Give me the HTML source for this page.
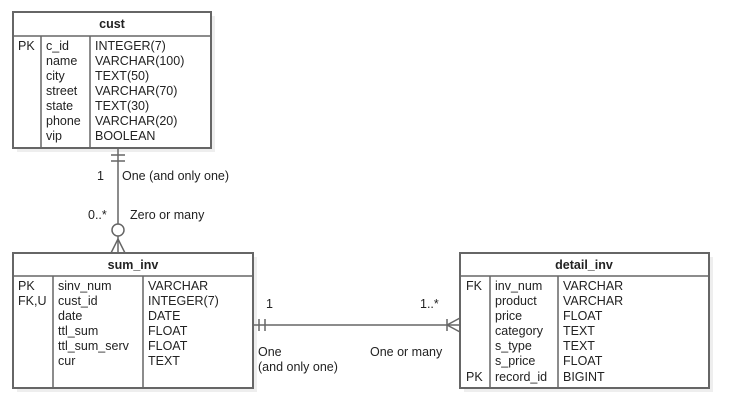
<!DOCTYPE html>
<html><head><meta charset="utf-8"><style>
html,body{margin:0;padding:0;background:#fff;}
svg{display:block;}
text{font-family:"Liberation Sans",Arial,sans-serif;font-size:12.5px;fill:#222;}
.h{font-weight:bold;font-size:12.5px;}
</style></head><body>
<svg width="729" height="405" viewBox="0 0 729 405" xmlns="http://www.w3.org/2000/svg">
<g fill="#eeeeee">
<rect x="17" y="16" width="198" height="136"/>
<rect x="17" y="257" width="240" height="135"/>
<rect x="464" y="257" width="249" height="135"/>
</g>
<g fill="#fff" stroke="#666" stroke-width="2">
<rect x="13" y="12" width="198" height="136"/>
<rect x="13" y="253" width="240" height="135"/>
<rect x="460" y="253" width="249" height="135"/>
</g>
<g stroke="#666" stroke-width="1.5" fill="none">
<line x1="13" y1="36" x2="211" y2="36"/>
<line x1="41" y1="36" x2="41" y2="148"/>
<line x1="90" y1="36" x2="90" y2="148"/>
<line x1="13" y1="276" x2="253" y2="276"/>
<line x1="53" y1="276" x2="53" y2="388"/>
<line x1="143" y1="276" x2="143" y2="388"/>
<line x1="460" y1="276" x2="709" y2="276"/>
<line x1="490" y1="276" x2="490" y2="388"/>
<line x1="558" y1="276" x2="558" y2="388"/>
<line x1="118" y1="148" x2="118" y2="224"/>
<line x1="111" y1="155" x2="125" y2="155"/>
<line x1="111" y1="161" x2="125" y2="161"/>
<circle cx="118" cy="230" r="6" fill="#fff"/>
<line x1="118" y1="236" x2="118" y2="253"/>
<line x1="118" y1="239" x2="111" y2="253"/>
<line x1="118" y1="239" x2="125" y2="253"/>
<line x1="253" y1="325" x2="460" y2="325"/>
<line x1="259" y1="319" x2="259" y2="331"/>
<line x1="265" y1="319" x2="265" y2="331"/>
<line x1="447" y1="319" x2="447" y2="331"/>
<line x1="447" y1="325" x2="460" y2="318"/>
<line x1="447" y1="325" x2="460" y2="332"/>
</g>
<text class="h" x="112" y="28" text-anchor="middle">cust</text>
<text x="18" y="50">PK</text>
<g>
<text x="46" y="50">c_id</text><text x="46" y="65">name</text><text x="46" y="80">city</text><text x="46" y="95">street</text><text x="46" y="110">state</text><text x="46" y="125">phone</text><text x="46" y="140">vip</text>
<text x="95" y="50">INTEGER(7)</text><text x="95" y="65">VARCHAR(100)</text><text x="95" y="80">TEXT(50)</text><text x="95" y="95">VARCHAR(70)</text><text x="95" y="110">TEXT(30)</text><text x="95" y="125">VARCHAR(20)</text><text x="95" y="140">BOOLEAN</text>
</g>
<text class="h" x="133" y="269" text-anchor="middle">sum_inv</text>
<text x="18" y="290">PK</text><text x="18" y="305">FK,U</text>
<text x="58" y="290">sinv_num</text><text x="58" y="305">cust_id</text><text x="58" y="320">date</text><text x="58" y="335">ttl_sum</text><text x="58" y="350">ttl_sum_serv</text><text x="58" y="365">cur</text>
<text x="148" y="290">VARCHAR</text><text x="148" y="305">INTEGER(7)</text><text x="148" y="320">DATE</text><text x="148" y="335">FLOAT</text><text x="148" y="350">FLOAT</text><text x="148" y="365">TEXT</text>
<text class="h" x="584" y="269" text-anchor="middle">detail_inv</text>
<text x="466" y="290">FK</text><text x="466" y="381">PK</text>
<text x="495" y="290">inv_num</text><text x="495" y="305">product</text><text x="495" y="320">price</text><text x="495" y="335">category</text><text x="495" y="350">s_type</text><text x="495" y="365">s_price</text><text x="495" y="381">record_id</text>
<text x="563" y="290">VARCHAR</text><text x="563" y="305">VARCHAR</text><text x="563" y="320">FLOAT</text><text x="563" y="335">TEXT</text><text x="563" y="350">TEXT</text><text x="563" y="365">FLOAT</text><text x="563" y="381">BIGINT</text>
<text x="97" y="180">1</text>
<text x="122" y="180">One (and only one)</text>
<text x="88" y="219">0..*</text>
<text x="130" y="219">Zero or many</text>
<text x="266" y="308">1</text>
<text x="420" y="308">1..*</text>
<text x="258" y="356">One</text>
<text x="258" y="371">(and only one)</text>
<text x="370" y="356">One or many</text>
</svg>
</body></html>
